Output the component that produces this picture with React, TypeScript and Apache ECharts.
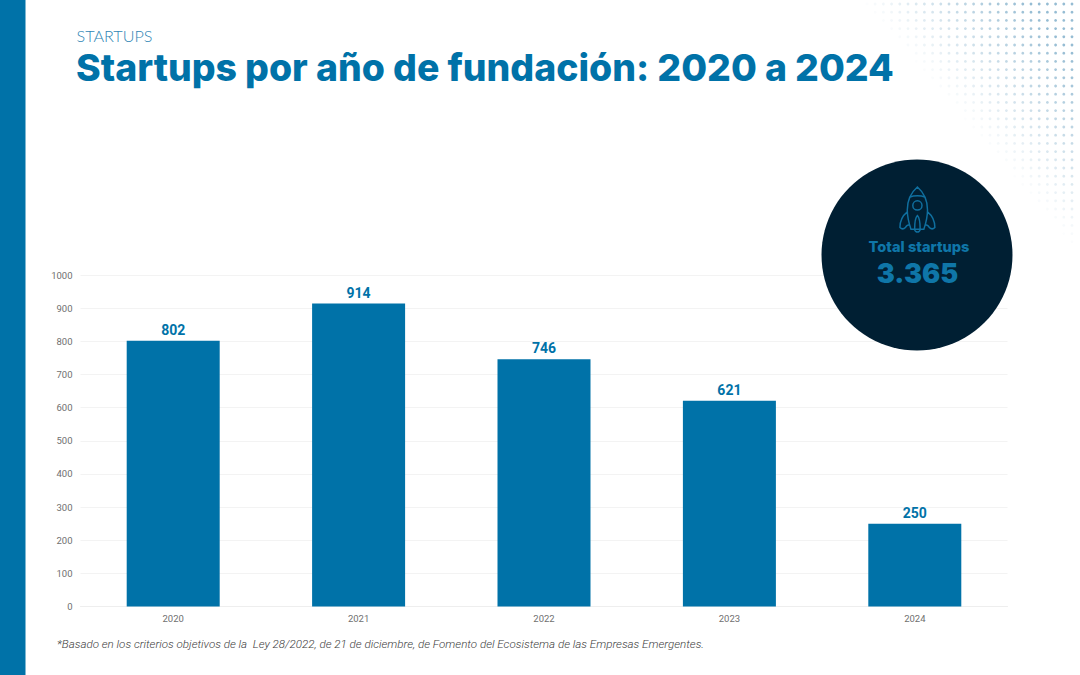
import React, { useEffect, useRef } from "react";
import * as echarts from "echarts";

const years = ["2020", "2021", "2022", "2023", "2024"];
const startups = [802, 914, 746, 621, 250];
const kicker = "STARTUPS";
const heading = "Startups por año de fundación: 2020 a 2024";
const badgeLabel = "Total startups";
const badgeValue = "3.365";
const footnote = "*Basado en los criterios objetivos de la  Ley 28/2022, de 21 de diciembre, de Fomento del Ecosistema de las Empresas Emergentes.";

const BLUE = "#0072a8";
const NAVY = "#001f33";

const rocketBody = "M20 0 C27 6 31 15 31 25 C31 33 29 40 27 46 L13 46 C11 40 9 33 9 25 C9 15 13 6 20 0 Z M12 11 C16 9 24 9 28 11 M17 46 C17 38 18 33 20 31 C22 33 23 38 23 46 C23 48 21 49 20 49 C19 49 17 48 17 46 Z M9 27 C4 31 1 37 1 44 C3 46 5 46 7 44 C8 42 10 41 12 41 M31 27 C36 31 39 37 39 44 C37 46 35 46 33 44 C32 42 30 41 28 41 M25 20 A5 5 0 1 1 15 20 A5 5 0 1 1 25 20 Z";
echarts.graphic.registerShape("rocket", echarts.graphic.extendPath(rocketBody, {}) as any);

function dotField() {
  const dots: any[] = [];
  for (let c = 0; c < 27; c++) {
    for (let r = 0; r < 31; r++) {
      const x = 1072 - c * 8.2;
      const y = 4 + r * 8.2;
      const d = (1080 - x) * 0.72 + y * 0.62;
      const strength = (160 - d) / 160;
      if (strength <= 0.02) continue;
      dots.push({
        type: "circle",
        silent: true,
        shape: { cx: x, cy: y, r: 1.4 },
        style: { fill: "#4f8fb5", opacity: Math.min(0.6, strength * 0.8) },
      });
    }
  }
  return dots;
}

export default function App() {
  const ref = useRef<HTMLDivElement>(null);
  useEffect(() => {
    document.body.style.margin = "0";
    const chart = echarts.init(ref.current!, undefined, { renderer: "svg" });
    chart.setOption({
      animation: false,
      backgroundColor: "#ffffff",
      grid: { left: 80.5, right: 72.5, top: 275, bottom: 68.5, containLabel: false },
      xAxis: {
        type: "category",
        data: years,
        axisLine: { show: true, lineStyle: { color: "#eeeeee", width: 1 } },
        axisTick: { show: false },
        axisLabel: { color: "#6f6f6f", fontFamily: "Roboto", fontSize: 9.5, margin: 7 },
      },
      yAxis: {
        type: "value",
        min: 0,
        max: 1000,
        interval: 100,
        axisLine: { show: false },
        axisTick: { show: false },
        splitLine: { lineStyle: { color: "#f3f3f3", width: 1 } },
        axisLabel: {
          color: "#6f6f6f",
          fontFamily: "Roboto",
          fontSize: 9.5,
          margin: 8,
          formatter: (v: number) => String(v),
        },
      },
      series: [
        {
          type: "bar",
          data: startups,
          barWidth: 93,
          itemStyle: { color: BLUE },
          label: {
            show: true,
            position: "top",
            distance: 4,
            color: BLUE,
            fontFamily: "Roboto",
            fontWeight: 700,
            fontSize: 14,
          },
        },
      ],
      graphic: [
        { type: "rect", silent: true, shape: { x: 0, y: 0, width: 25.5, height: 675 }, style: { fill: BLUE } },
        ...dotField(),
        { type: "text", x: 76.5, y: 35, style: { text: kicker, fill: "#2f86b5", font: "300 16.2px Lato", verticalAlign: "middle" } },
        { type: "text", x: 76, y: 67, style: { text: heading, fill: BLUE, font: "800 37.4px Inter", verticalAlign: "middle" } },
        { type: "circle", z: 10, shape: { cx: 917, cy: 255, r: 95.5 }, style: { fill: NAVY } },
        {
          type: "rocket",
          z: 11,
          x: 899,
          y: 187,
          scaleX: 0.92,
          scaleY: 0.92,
          style: { fill: "none", stroke: "#0f6f9f", lineWidth: 1.6 },
        },
        {
          type: "text",
          z: 11,
          x: 919,
          y: 247,
          style: { text: badgeLabel, fill: "#0f76a8", font: "800 14.6px Inter", align: "center", verticalAlign: "middle" },
        },
        {
          type: "text",
          z: 11,
          x: 917.5,
          y: 273,
          style: { text: badgeValue, fill: "#0f76a8", font: "900 27px Inter", align: "center", verticalAlign: "middle" },
        },
        {
          type: "text",
          x: 57,
          y: 644,
          style: { text: footnote, fill: "#3c3c3c", font: "italic 300 11.6px Roboto", verticalAlign: "middle" },
        },
      ],
    });
    return () => chart.dispose();
  }, []);
  return <div ref={ref} style={{ position: "absolute", left: 0, top: 0, width: 1080, height: 675 }} />;
}
